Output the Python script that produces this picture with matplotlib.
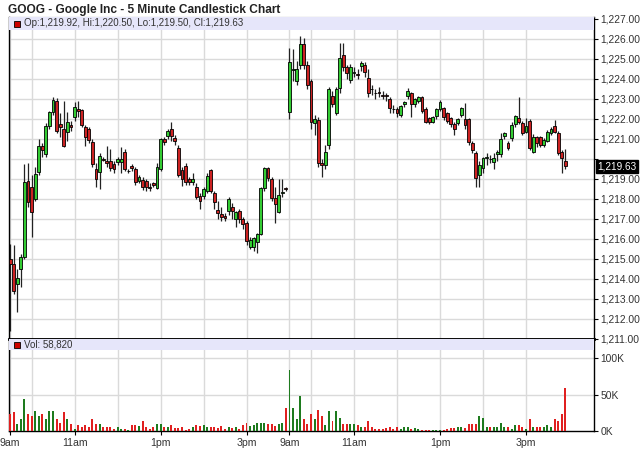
import matplotlib
matplotlib.use('Agg')
import matplotlib.pyplot as plt
from matplotlib.patches import Rectangle
from matplotlib.transforms import blended_transform_factory

plt.rcParams['font.family'] = ['Liberation Sans', 'DejaVu Sans']

# two sessions of 5 minute bars, 78 each (9:30 - 15:55)
opens = [
    1215.00, 1214.75, 1213.75, 1214.50, 1215.12, 1218.92, 1218.60, 1218.00, 1219.33, 1220.67,
    1220.25, 1221.67, 1222.33, 1222.92, 1221.75, 1221.50, 1221.33, 1221.70, 1222.08, 1222.50,
    1222.45, 1221.58, 1221.50, 1220.87, 1219.50, 1219.33, 1220.00, 1219.92, 1219.90, 1219.75,
    1219.83, 1219.83, 1220.37, 1219.38, 1219.67, 1219.50, 1218.92, 1218.95, 1218.92, 1218.60,
    1218.78, 1218.55, 1219.50, 1221.00, 1221.17, 1221.50, 1221.05, 1220.55, 1219.45, 1219.67,
    1219.00, 1218.83, 1218.62, 1218.17, 1218.17, 1218.42, 1219.45, 1218.28, 1217.45, 1217.25,
    1217.17, 1217.38, 1217.62, 1216.98, 1217.38, 1216.98, 1216.80, 1215.60, 1215.62, 1215.87,
    1216.25, 1218.53, 1219.53, 1219.00, 1218.03, 1217.37, 1218.30, 1218.52,
    1222.33, 1224.45, 1223.92, 1224.70, 1225.75, 1224.70, 1223.92, 1221.82, 1221.95, 1219.82,
    1219.70, 1220.70, 1223.15, 1222.32, 1223.53, 1225.20, 1224.62, 1223.95, 1224.30, 1224.22,
    1224.65, 1224.70, 1224.03, 1223.50, 1223.30, 1223.32, 1223.18, 1223.16, 1222.98, 1222.50,
    1222.48, 1222.20, 1222.73, 1223.15, 1223.28, 1222.75, 1222.92, 1223.08, 1222.48, 1222.03,
    1221.87, 1222.15, 1222.48, 1222.53, 1222.30, 1222.03, 1221.75, 1221.82, 1222.20, 1221.98,
    1221.98, 1220.82, 1220.28, 1219.20, 1219.53, 1220.05, 1220.00, 1219.87, 1220.25, 1220.25,
    1221.15, 1220.82, 1221.03, 1221.75, 1222.03, 1221.78, 1221.37, 1221.92, 1220.37, 1221.08,
    1221.08, 1220.70, 1220.92, 1221.28, 1221.65, 1221.32, 1220.37, 1219.92,
]
highs = [
    1215.75, 1215.70, 1214.50, 1215.25, 1219.75, 1219.80, 1219.20, 1219.60, 1221.00, 1220.80,
    1221.80, 1222.40, 1223.10, 1223.05, 1222.30, 1222.92, 1222.33, 1221.90, 1222.83, 1222.90,
    1222.50, 1221.70, 1221.60, 1221.00, 1219.80, 1220.30, 1220.10, 1220.67, 1220.50, 1219.90,
    1220.10, 1220.60, 1220.50, 1219.50, 1219.75, 1219.60, 1219.20, 1219.10, 1219.00, 1218.80,
    1218.85, 1219.80, 1221.05, 1221.10, 1221.50, 1221.83, 1221.20, 1220.70, 1219.60, 1219.80,
    1219.10, 1219.30, 1218.80, 1218.30, 1218.60, 1219.30, 1219.50, 1218.40, 1217.90, 1217.60,
    1217.30, 1218.10, 1217.80, 1217.40, 1217.50, 1217.10, 1216.90, 1216.10, 1216.10, 1216.30,
    1218.60, 1219.60, 1219.60, 1219.10, 1218.60, 1219.00, 1219.00, 1218.60,
    1225.53, 1225.50, 1224.90, 1226.15, 1226.05, 1224.90, 1224.00, 1222.20, 1222.10, 1220.00,
    1220.70, 1223.60, 1223.40, 1223.60, 1225.82, 1225.82, 1224.70, 1224.75, 1224.60, 1224.50,
    1224.90, 1224.85, 1224.50, 1223.70, 1223.50, 1223.60, 1223.40, 1223.30, 1223.10, 1222.70,
    1222.60, 1222.70, 1222.90, 1223.55, 1223.35, 1223.05, 1223.15, 1223.15, 1222.60, 1222.10,
    1222.15, 1222.55, 1222.95, 1222.60, 1222.35, 1222.10, 1221.85, 1222.05, 1222.60, 1222.78,
    1222.05, 1220.90, 1220.40, 1219.90, 1220.10, 1220.30, 1220.20, 1220.30, 1220.45, 1221.30,
    1221.35, 1220.90, 1221.85, 1222.20, 1223.12, 1221.90, 1222.05, 1222.00, 1221.25, 1221.15,
    1221.15, 1221.05, 1221.45, 1221.60, 1221.95, 1221.40, 1220.45, 1220.50,
]
lows = [
    1211.40, 1213.25, 1212.33, 1213.60, 1215.00, 1217.60, 1216.10, 1217.90, 1219.20, 1220.10,
    1220.10, 1221.50, 1222.20, 1221.30, 1221.10, 1220.60, 1220.90, 1221.40, 1221.90, 1222.10,
    1221.60, 1220.67, 1220.80, 1219.60, 1218.58, 1218.50, 1219.90, 1219.60, 1219.40, 1219.30,
    1219.70, 1219.30, 1219.40, 1219.30, 1219.40, 1218.70, 1218.80, 1218.45, 1218.40, 1218.40,
    1218.60, 1218.50, 1219.40, 1220.70, 1221.00, 1220.90, 1220.70, 1219.10, 1218.65, 1218.70,
    1218.70, 1218.70, 1218.00, 1217.50, 1218.00, 1218.30, 1218.30, 1217.50, 1217.00, 1216.90,
    1216.90, 1217.20, 1217.00, 1216.60, 1216.80, 1216.50, 1215.70, 1215.50, 1215.40, 1215.30,
    1216.20, 1218.40, 1218.90, 1217.90, 1216.80, 1217.30, 1218.10, 1218.40,
    1222.00, 1223.90, 1223.70, 1224.50, 1224.50, 1223.50, 1221.50, 1221.20, 1219.60, 1219.12,
    1219.50, 1220.50, 1222.60, 1222.20, 1223.30, 1224.40, 1224.00, 1223.80, 1224.10, 1224.00,
    1224.40, 1224.10, 1223.10, 1223.20, 1223.00, 1223.10, 1223.00, 1222.90, 1222.30, 1222.30,
    1222.10, 1222.10, 1222.60, 1223.00, 1222.10, 1222.60, 1222.80, 1222.30, 1221.80, 1221.75,
    1221.80, 1222.00, 1222.40, 1221.95, 1221.80, 1221.60, 1221.20, 1221.70, 1222.10, 1221.50,
    1220.70, 1220.30, 1218.60, 1218.60, 1219.30, 1219.70, 1219.80, 1219.50, 1219.90, 1220.10,
    1221.00, 1220.45, 1220.90, 1221.60, 1221.75, 1221.20, 1221.30, 1220.45, 1220.30, 1220.60,
    1220.60, 1220.60, 1220.85, 1221.20, 1221.30, 1220.20, 1219.30, 1219.50,
]
closes = [
    1214.75, 1213.42, 1214.05, 1215.12, 1218.83, 1217.83, 1217.33, 1219.25, 1220.67, 1220.45,
    1221.67, 1222.33, 1222.95, 1221.42, 1221.60, 1220.67, 1221.83, 1221.58, 1222.58, 1222.40,
    1221.70, 1221.08, 1220.95, 1219.75, 1219.00, 1220.17, 1219.95, 1219.80, 1219.55, 1219.50,
    1220.00, 1220.00, 1219.50, 1219.38, 1219.55, 1218.83, 1219.08, 1218.58, 1218.58, 1218.55,
    1218.70, 1219.60, 1221.00, 1220.83, 1221.38, 1221.17, 1220.88, 1219.22, 1219.00, 1218.83,
    1218.83, 1219.00, 1218.12, 1217.92, 1218.50, 1219.17, 1218.42, 1217.83, 1217.30, 1217.08,
    1217.03, 1218.00, 1217.38, 1217.33, 1216.98, 1216.75, 1215.90, 1215.97, 1216.03, 1216.25,
    1218.53, 1219.53, 1219.03, 1218.03, 1217.75, 1218.20, 1218.32, 1218.50,
    1224.83, 1224.50, 1224.48, 1225.75, 1224.70, 1223.70, 1221.87, 1221.98, 1219.82, 1219.72,
    1220.37, 1223.48, 1222.75, 1223.48, 1225.03, 1224.62, 1224.32, 1224.60, 1224.33, 1224.20,
    1224.82, 1224.37, 1223.28, 1223.48, 1223.28, 1223.30, 1223.17, 1223.15, 1222.53, 1222.48,
    1222.28, 1222.65, 1222.83, 1223.42, 1222.75, 1222.98, 1223.08, 1222.40, 1221.87, 1221.87,
    1222.08, 1222.48, 1222.87, 1222.08, 1221.92, 1221.75, 1221.48, 1221.98, 1222.53, 1221.70,
    1220.87, 1220.45, 1219.03, 1219.70, 1220.03, 1220.08, 1219.98, 1220.03, 1220.37, 1220.98,
    1221.28, 1220.53, 1221.70, 1222.15, 1221.87, 1221.32, 1221.67, 1220.53, 1221.12, 1220.78,
    1220.70, 1220.95, 1221.37, 1221.48, 1221.37, 1220.32, 1220.03, 1219.63,
]
# volume in thousands of shares
volume_k = [
    23, 26, 10, 17, 44, 24, 20, 27, 20, 23, 16, 28, 27, 16, 11, 26, 17, 9, 3, 8,
    5, 8, 6, 17, 10, 9, 5, 5, 5, 3, 5, 3, 3, 2, 8, 8, 7, 14, 5, 3,
    5, 10, 9, 6, 6, 8, 4, 4, 5, 2, 3, 6, 8, 7, 8, 5, 5, 6, 4, 7,
    3, 5, 4, 5, 3, 8, 11, 7, 8, 11, 11, 11, 9, 9, 7, 9, 11, 32,
    84, 32, 17, 48, 17, 10, 23, 16, 29, 20, 8, 27, 14, 28, 18, 10, 9, 9, 10,
    8, 6, 5, 14, 6, 3, 3, 3, 4, 6, 3, 6, 3, 5, 5, 3, 4, 3, 2, 2,
    2, 2, 2, 2, 2, 3, 4, 4, 6, 5, 4, 9, 9, 10, 20, 18, 6, 5, 5, 6,
    11, 6, 5, 3, 8, 8, 5, 3, 16, 5, 6, 6, 6, 8, 6, 17, 14, 23, 58.82,
]
bars_per_day = 78
hour_labels = ['9am', '11am', '1pm', '3pm']
hour_offsets = [0, 18, 42, 66]          # bar offsets of labelled hours within a session
grid_offsets = [0, 6, 18, 30, 42, 54, 66]

x = list(range(len(closes)))
volumes = [v * 1000 for v in volume_k]

fig = plt.figure(figsize=(6.4, 4.68), dpi=100)
W, H = 640, 468
ax = fig.add_axes([9 / W, 1 - 339 / H, 585 / W, 322 / H])
axv = fig.add_axes([9 / W, 1 - 431 / H, 585 / W, 92 / H], sharex=ax)

fig.text(8 / W, 1 - 10 / H, 'GOOG - Google Inc - 5 Minute Candlestick Chart',
         fontsize=8.6, fontweight='bold', color='#222222', va='center')

grid_col = '#dadada'
xgrid = [d * bars_per_day + g for d in range(2) for g in grid_offsets]
for a in (ax, axv):
    for g in xgrid:
        a.axvline(g, color=grid_col, lw=1, zorder=0)

# candles
up_body, dn_body = '#33cc33', '#cc2222'
ax.vlines(x, lows, highs, color='#222222', lw=0.9, zorder=2)
bottoms = [min(o, c) for o, c in zip(opens, closes)]
heights = [max(abs(c - o), 0.03) for o, c in zip(opens, closes)]
body_cols = [up_body if c >= o else dn_body for o, c in zip(opens, closes)]
ax.bar(x, heights, bottom=bottoms, width=0.8, color=body_cols,
       edgecolor='black', linewidth=0.6, zorder=3)

ax.set_xlim(-0.3, 163)
ax.set_ylim(1211, 1227.1)
price_ticks = list(range(1211, 1228))
for p in price_ticks:
    ax.axhline(p, color=grid_col, lw=1, zorder=0)
ax.yaxis.tick_right()
ax.set_yticks(price_ticks)
last = closes[-1]
ax.set_yticklabels(['' if abs(p - last) < 0.5 else f'{p:,.2f}' for p in price_ticks])
ax.tick_params(axis='y', direction='out', length=3, width=0.8, pad=1.5,
               labelsize=7.4, labelcolor='#333333')
ax.tick_params(axis='x', length=0, labelbottom=False)
for s in ('left', 'right'):
    ax.spines[s].set_color('black')
    ax.spines[s].set_linewidth(1)
ax.spines['top'].set_color('#555555')
ax.spines['top'].set_linewidth(0.8)
ax.spines['bottom'].set_color('black')
ax.spines['bottom'].set_linewidth(1.8)

# legend band of the price panel
ax.add_patch(Rectangle((0, 1 - 13 / 322), 1, 13 / 322, transform=ax.transAxes,
                       facecolor='#e6e6fa', edgecolor='none', zorder=5))
ax.add_patch(Rectangle((5 / 585, 1 - 10 / 322), 6 / 585, 6 / 322, transform=ax.transAxes,
                       facecolor='#cc0000', edgecolor='black', lw=0.6, zorder=6))
ax.text(15 / 585, 1 - 6.5 / 322,
        f'Op:{opens[-1]:,.2f}, Hi:{highs[-1]:,.2f}, Lo:{lows[-1]:,.2f}, Cl:{closes[-1]:,.2f}',
        transform=ax.transAxes, fontsize=7, color='#333333', va='center', zorder=6)

# last price marker
tr = blended_transform_factory(ax.transAxes, ax.transData)
ax.text(1 + 3 / 585, last, f'{last:,.2f}', transform=tr, fontsize=7.2, color='white',
        va='center', ha='left', zorder=7, clip_on=False,
        bbox=dict(boxstyle='square,pad=0.15', facecolor='black', edgecolor='black'))

# volume
vol_cols = ['#1e7b1e' if c >= o else '#e02020' for o, c in zip(opens, closes)]
axv.bar(x, volumes, width=0.55, color=vol_cols, zorder=3)
axv.set_ylim(0, 126500)
vticks = [0, 50000, 100000]
for v in vticks[1:]:
    axv.axhline(v, color=grid_col, lw=1, zorder=0)
axv.yaxis.tick_right()
axv.set_yticks(vticks)
axv.set_yticklabels(['0K', '50K', '100K'])
axv.tick_params(axis='y', direction='out', length=3, width=0.8, pad=1.5,
                labelsize=7.4, labelcolor='#333333')
xt = [d * bars_per_day + h for d in range(2) for h in hour_offsets]
axv.set_xticks(xt)
axv.set_xticklabels(hour_labels * 2)
axv.tick_params(axis='x', direction='out', length=3, width=0.8, pad=2,
                labelsize=7.6, labelcolor='#333333')
for s in ('left', 'right', 'bottom'):
    axv.spines[s].set_color('black')
    axv.spines[s].set_linewidth(1)
axv.spines['top'].set_color('black')
axv.spines['top'].set_linewidth(1.8)

axv.add_patch(Rectangle((0, 1 - 11 / 92), 1, 11 / 92, transform=axv.transAxes,
                        facecolor='#e6e6fa', edgecolor='none', zorder=5))
axv.add_patch(Rectangle((5 / 585, 1 - 9 / 92), 6 / 585, 6 / 92, transform=axv.transAxes,
                        facecolor='#cc0000', edgecolor='black', lw=0.6, zorder=6))
axv.text(15 / 585, 1 - 5.5 / 92, f'Vol: {int(round(volumes[-1])):,}', transform=axv.transAxes,
         fontsize=7, color='#333333', va='center', zorder=6)

fig.savefig('out.png', dpi=100)
